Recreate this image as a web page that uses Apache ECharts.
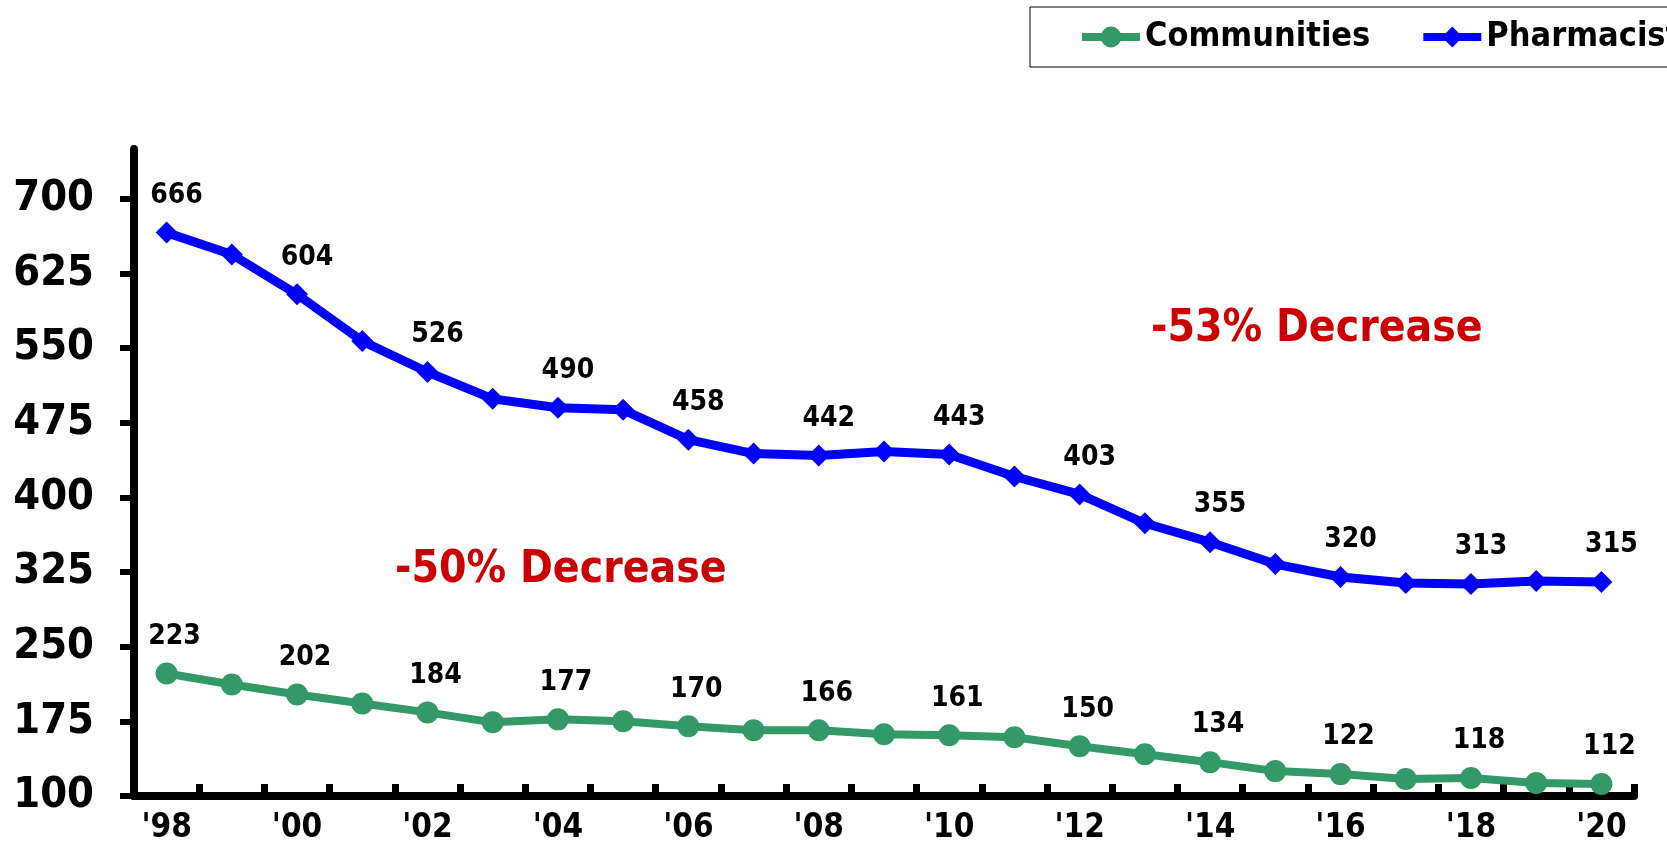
<!DOCTYPE html>
<html>
<head>
<meta charset="utf-8">
<script src="https://cdn.jsdelivr.net/npm/echarts@6/dist/echarts.min.js"></script>
<style>
html, body { margin: 0; padding: 0; background: #fff; }
#chart { width: 1667px; height: 846px; }
</style>
</head>
<body>
<div id="chart"></div>
<script>
var years = ["'98", "'99", "'00", "'01", "'02", "'03", "'04", "'05", "'06", "'07", "'08", "'09",
  "'10", "'11", "'12", "'13", "'14", "'15", "'16", "'17", "'18", "'19", "'20"]
var pharmacists = [666, 644, 604, 557, 526, 499, 490, 488, 458, 444, 442, 446,
  443, 421, 403, 374, 355, 333, 320, 314, 313, 316, 315]
var communities = [223, 212, 202, 193, 184, 174, 177, 175, 170, 166, 166, 162,
  161, 159, 150, 142, 134, 125, 122, 117, 118, 113, 112]
var yTicks = [100, 175, 250, 325, 400, 475, 550, 625, 700]

var font = '"DejaVu Sans Condensed", "DejaVu Sans", sans-serif'

// only every other year carries a value label
function evenLabel(p) {
  return p.dataIndex % 2 === 0 ? String(p.value) : ''
}

var chart = echarts.init(document.getElementById('chart'))
var option = {
  animation: false,
  textStyle: { fontFamily: font },
  legend: {
    orient: 'horizontal',
    left: 1030,
    top: 7,
    width: 900,
    padding: [13, 60, 13, 48],
    borderColor: '#000',
    borderWidth: 1,
    backgroundColor: '#fff',
    itemWidth: 58,
    itemHeight: 26,
    itemGap: 49,
    lineStyle: { width: 8 },
    textStyle: { fontSize: 34, fontWeight: 'bold', color: '#000', fontFamily: font },
    data: ['Communities', 'Pharmacists']
  },
  grid: {
    left: 134,
    right: 33,
    top: 149,
    bottom: 50
  },
  xAxis: {
    type: 'category',
    data: years,
    boundaryGap: true,
    axisLine: { lineStyle: { color: '#000', width: 8 } },
    axisTick: { show: true, inside: true, interval: 0, length: 12, lineStyle: { color: '#000', width: 7 } },
    axisLabel: {
      interval: 1,
      margin: 16,
      fontSize: 33,
      fontWeight: 'bold',
      color: '#000',
      fontFamily: font
    },
    splitLine: { show: false }
  },
  yAxis: {
    type: 'value',
    min: 100,
    max: 750,
    axisLine: { show: true, lineStyle: { color: '#000', width: 8 } },
    axisTick: { show: true, length: 14, customValues: yTicks, lineStyle: { color: '#000', width: 6 } },
    axisLabel: {
      customValues: yTicks,
      margin: 40,
      fontSize: 43,
      fontWeight: 'bold',
      color: '#000',
      fontFamily: font
    },
    splitLine: { show: false }
  },
  graphic: [
    {
      type: 'text',
      left: 1151,
      top: 308,
      style: { text: '-53% Decrease', fontSize: 44, fontWeight: 'bold', fill: '#CC0000', fontFamily: font }
    },
    {
      type: 'text',
      left: 395,
      top: 549,
      style: { text: '-50% Decrease', fontSize: 44, fontWeight: 'bold', fill: '#CC0000', fontFamily: font }
    }
  ],
  series: [
    {
      name: 'Communities',
      type: 'line',
      data: communities,
      symbol: 'circle',
      symbolSize: 22,
      itemStyle: { color: '#339966' },
      lineStyle: { color: '#339966', width: 8 },
      label: {
        show: true,
        position: 'top',
        distance: 12,
        offset: [8, 0],
        formatter: evenLabel,
        fontSize: 28,
        fontWeight: 'bold',
        color: '#000',
        fontFamily: font
      },
      z: 3
    },
    {
      name: 'Pharmacists',
      type: 'line',
      data: pharmacists,
      symbol: 'diamond',
      symbolSize: 22,
      itemStyle: { color: '#0000FF' },
      lineStyle: { color: '#0000FF', width: 9 },
      label: {
        show: true,
        position: 'top',
        distance: 12,
        offset: [10, 0],
        formatter: evenLabel,
        fontSize: 28,
        fontWeight: 'bold',
        color: '#000',
        fontFamily: font
      },
      z: 3
    }
  ]
}
chart.setOption(option)
window.addEventListener('resize', function() {
  chart.resize()
})
</script>
</body>
</html>
